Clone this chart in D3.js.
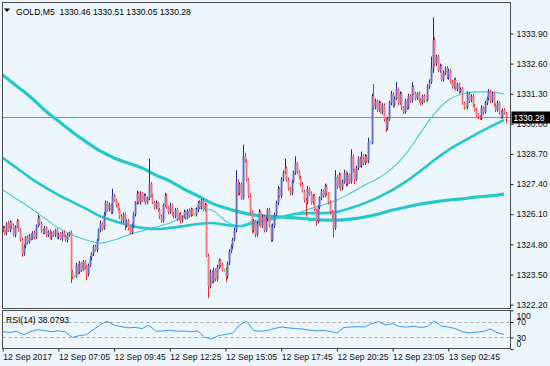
<!DOCTYPE html>
<html>
<head>
<meta charset="utf-8">
<script src="https://cdn.jsdelivr.net/npm/d3@7"></script>
<style>
  html, body { margin: 0; padding: 0; background: #eef6fd; }
  svg { display: block; font-family: "Liberation Sans", Arial, sans-serif; }
</style>
</head>
<body>
<div id="chart"></div>
<script>
// GOLD M5 chart with three moving averages and an RSI(14) sub-window

const symbolTitle = "GOLD,M5  1330.46 1330.51 1330.05 1330.28";
const rsiTitle = "RSI(14) 38.0793";
const lastPrice = 1330.28;

const priceTicks = [1333.90, 1332.60, 1331.30, 1330.00, 1328.70, 1327.40, 1326.10, 1324.80, 1323.50, 1322.20];
const timeTickBars = [0, 32, 64, 96, 128, 160, 192, 224, 256];
const timeTickLabels = ["12 Sep 2017", "12 Sep 07:05", "12 Sep 09:45", "12 Sep 12:25", "12 Sep 15:05",
  "12 Sep 17:45", "12 Sep 20:25", "12 Sep 23:05", "13 Sep 02:45"];
const rsiTicks = [100, 70, 30, 0];
const rsiLevels = [70, 30];

// candles: open of a bar = close of the bar before it
const firstOpen = 1325.40;
const closes = [
  1325.50, 1325.30, 1325.70, 1325.40, 1325.75, 1325.60, 1325.20, 1325.55, 1325.80, 1325.45,
  1325.00, 1324.40, 1324.70, 1325.10, 1324.90, 1325.20, 1325.05, 1325.30, 1325.10, 1325.60,
  1325.95, 1325.70, 1325.40, 1325.30, 1325.50, 1325.20, 1325.35, 1325.10, 1325.30, 1325.20,
  1325.40, 1325.10, 1325.25, 1325.05, 1325.30, 1325.15, 1325.00, 1325.20, 1325.30, 1323.60,
  1323.40, 1323.42, 1323.90, 1323.60, 1324.00, 1323.70, 1324.05, 1323.80, 1323.50, 1323.90,
  1324.20, 1324.40, 1324.70, 1324.55, 1325.00, 1325.40, 1325.70, 1325.50, 1326.10, 1326.60,
  1326.30, 1326.50, 1326.20, 1326.90, 1326.70, 1326.50, 1326.30, 1326.00, 1325.80, 1326.10,
  1325.60, 1325.80, 1325.50, 1325.30, 1325.60, 1326.10, 1326.60, 1327.00, 1326.60, 1327.00,
  1326.70, 1326.90, 1326.60, 1326.80, 1327.40, 1326.90, 1326.60, 1326.40, 1326.60, 1326.30,
  1326.00, 1325.80, 1326.50, 1326.90, 1326.40, 1326.20, 1326.50, 1326.10, 1326.00, 1326.30,
  1325.90, 1326.10, 1325.80, 1326.00, 1326.20, 1325.95, 1326.25, 1326.05, 1326.30, 1326.10,
  1326.08, 1326.30, 1326.60, 1326.40, 1326.70, 1326.30, 1326.50, 1324.30, 1323.00, 1323.60,
  1323.20, 1323.70, 1323.30, 1323.80, 1324.10, 1323.90, 1323.70, 1323.72, 1323.40, 1324.00,
  1324.50, 1324.70, 1325.00, 1325.40, 1327.50, 1327.00, 1327.40, 1326.80, 1328.60, 1328.40,
  1327.60, 1326.90, 1326.20, 1325.40, 1325.80, 1325.20, 1325.70, 1326.20, 1325.60, 1326.00,
  1325.40, 1325.90, 1326.30, 1325.60, 1325.00, 1325.60, 1326.10, 1326.60, 1327.20, 1326.90,
  1327.60, 1327.90, 1328.10, 1327.60, 1327.20, 1327.00, 1327.50, 1327.90, 1328.30, 1327.90,
  1327.70, 1327.40, 1327.10, 1326.70, 1326.60, 1327.20, 1327.00, 1326.60, 1326.90, 1326.30,
  1325.80, 1326.40, 1326.80, 1327.10, 1326.90, 1327.30, 1327.00, 1326.60, 1326.20, 1326.00,
  1325.50, 1327.70, 1327.30, 1327.80, 1327.20, 1327.50, 1327.90, 1327.40, 1327.80, 1327.50,
  1328.60, 1328.00, 1327.60, 1328.10, 1328.50, 1328.20, 1328.60, 1328.30, 1328.60, 1328.40,
  1329.20, 1329.18, 1331.20, 1330.70, 1331.00, 1330.60, 1330.90, 1330.50, 1330.80, 1330.20,
  1329.80, 1330.20, 1330.90, 1331.30, 1330.80, 1331.10, 1331.50, 1330.90, 1331.30, 1330.70,
  1330.50, 1331.00, 1330.70, 1331.20, 1331.00, 1331.60, 1331.30, 1331.10, 1331.30, 1331.00,
  1330.90, 1331.20, 1331.00, 1331.02, 1331.60, 1331.80, 1332.40, 1333.60, 1332.60, 1332.90,
  1332.30, 1332.50, 1331.90, 1332.20, 1332.40, 1332.00, 1332.30, 1331.80, 1331.60, 1331.90,
  1331.50, 1331.70, 1331.40, 1331.50, 1330.90, 1330.70, 1330.72, 1331.30, 1331.00, 1331.20,
  1330.80, 1330.60, 1330.40, 1330.30, 1330.25, 1330.70, 1330.50, 1330.90, 1331.10, 1331.40,
  1331.00, 1331.30, 1330.80, 1330.60, 1330.90, 1330.50, 1330.30, 1330.60, 1330.46, 1330.28
];
// wick lengths above / below the body, in cents
const upWick = [
  8, 10, 6, 12, 8, 5, 10, 7, 9, 6,   5, 8, 10, 6, 9, 5, 8, 7, 10, 6,
  12, 6, 8, 5, 9, 7, 6, 10, 5, 8,    6, 9, 5, 8, 7, 10, 6, 8, 5, 10,
  8, 6, 10, 7, 9, 5, 8, 6, 10, 7,    9, 6, 8, 10, 5, 8, 12, 6, 10, 9,
  7, 10, 6, 30, 8, 6, 9, 5, 10, 7,   8, 6, 9, 5, 10, 8, 6, 12, 7, 9,
  6, 10, 8, 5, 110, 9, 6, 8, 10, 5,  7, 9, 6, 12, 8, 5, 10, 6, 9, 7,
  8, 6, 10, 5, 9, 7, 6, 10, 8, 5,    6, 9, 7, 10, 5, 8, 9, 6, 10, 12,
  8, 10, 6, 12, 9, 7, 10, 5, 8, 6,   9, 10, 8, 12, 50, 10, 8, 9, 50, 15,
  8, 6, 10, 7, 9, 5, 8, 12, 6, 10,   7, 9, 6, 8, 5, 10, 7, 9, 12, 6,
  10, 8, 40, 6, 9, 7, 10, 8, 30, 6,  9, 5, 8, 6, 10, 12, 7, 9, 6, 8,
  5, 10, 7, 9, 6, 12, 8, 5, 10, 7,   9, 30, 8, 10, 6, 9, 12, 7, 10, 6,
  30, 8, 6, 9, 10, 7, 20, 8, 10, 6,  20, 8, 10, 52, 9, 6, 10, 7, 9, 8,
  6, 10, 9, 12, 7, 8, 30, 6, 10, 8,  6, 9, 7, 10, 8, 20, 6, 9, 7, 10,
  8, 6, 9, 5, 10, 12, 50, 100, 15, 9, 8, 10, 6, 9, 7, 10, 8, 6, 9, 7,
  10, 6, 8, 7, 9, 5, 6, 10, 8, 7,    9, 6, 8, 5, 7, 10, 6, 9, 8, 10,
  7, 9, 6, 8, 10, 7, 9, 6, 8, 5
];
const dnWick = [
  7, 9, 10, 6, 8, 12, 6, 9, 5, 10,   8, 13, 9, 7, 10, 6, 8, 5, 9, 7,
  6, 8, 10, 7, 5, 9, 8, 6, 10, 7,    8, 6, 9, 7, 10, 5, 8, 12, 6, 47,
  10, 8, 6, 9, 7, 10, 6, 8, 24, 9,   7, 8, 10, 6, 9, 5, 8, 10, 7, 6,
  9, 7, 10, 8, 6, 9, 7, 10, 8, 6,    18, 8, 10, 9, 6, 7, 10, 8, 6, 9,
  8, 6, 10, 7, 9, 8, 6, 10, 7, 9,    10, 8, 6, 9, 7, 10, 8, 6, 9, 7,
  9, 7, 10, 6, 8, 9, 7, 10, 6, 8,    7, 8, 10, 6, 9, 7, 8, 5, 52, 10,
  9, 7, 10, 8, 6, 9, 7, 10, 20, 8,   10, 7, 9, 6, 8, 10, 7, 9, 6, 8,
  9, 10, 7, 12, 8, 10, 6, 9, 7, 10,  8, 6, 10, 7, 10, 8, 9, 6, 10, 7,
  9, 8, 6, 10, 7, 9, 8, 6, 10, 7,    8, 10, 6, 9, 60, 7, 10, 8, 9, 6,
  20, 9, 7, 10, 8, 6, 9, 7, 10, 8,   40, 8, 10, 7, 9, 6, 8, 10, 7, 9,
  8, 10, 20, 7, 9, 6, 10, 8, 7, 9,   10, 8, 6, 9, 7, 10, 8, 6, 9, 10,
  15, 8, 7, 9, 10, 6, 8, 9, 7, 10,   8, 6, 9, 7, 10, 8, 6, 9, 7, 8,
  10, 7, 9, 8, 6, 9, 7, 20, 8, 10,   7, 9, 6, 8, 10, 7, 9, 6, 8, 10,
  7, 9, 10, 6, 8, 7, 6, 9, 10, 7,    8, 6, 9, 10, 7, 8, 10, 6, 9, 7,
  10, 8, 6, 9, 7, 10, 8, 7, 6, 23
];

// moving averages, read every maStep bars
const maStep = 8;
const maSlow = [
  1332.11, 1331.63, 1331.16, 1330.60, 1330.12, 1329.65, 1329.22, 1328.83, 1328.53, 1328.31,
  1328.10, 1327.79, 1327.53, 1327.19, 1326.89, 1326.58, 1326.37, 1326.20, 1326.07, 1326.02,
  1325.98, 1325.94, 1325.89, 1325.85, 1325.85, 1325.89, 1325.98, 1326.11, 1326.28, 1326.41,
  1326.54, 1326.63, 1326.71, 1326.76, 1326.84, 1326.89, 1326.97
];
const maMid = [
  1328.53, 1328.10, 1327.66, 1327.28, 1326.93, 1326.63, 1326.33, 1326.02, 1325.81, 1325.64,
  1325.51, 1325.46, 1325.51, 1325.59, 1325.68, 1325.72, 1325.64, 1325.59, 1325.72, 1325.85,
  1325.98, 1326.11, 1326.15, 1326.15, 1326.20, 1326.37, 1326.58, 1326.84, 1327.15, 1327.53,
  1327.97, 1328.44, 1328.87, 1329.22, 1329.56, 1329.87, 1330.17
];
const maFast = [
  1327.15, 1326.76, 1326.37, 1325.94, 1325.51, 1325.20, 1324.99, 1324.86, 1324.99, 1325.20,
  1325.38, 1325.55, 1325.72, 1326.02, 1326.37, 1326.28, 1325.81, 1325.59, 1325.81, 1325.85,
  1325.94, 1326.11, 1326.33, 1326.50, 1326.71, 1327.02, 1327.36, 1327.66, 1328.10, 1328.74,
  1329.61, 1330.43, 1331.03, 1331.29, 1331.38, 1331.38, 1331.29
];

// RSI(14), read every rsiStep bars
const rsiStep = 4;
const rsiValues = [
  45, 43, 46, 37, 45, 50, 48, 45, 47, 45, 30, 35, 37, 50, 63, 72, 62, 58, 55, 56,
  53, 62, 46, 47, 49, 46, 47, 45, 47, 31, 26, 35, 38, 41, 62, 72, 49, 46, 48, 53,
  57, 55, 53, 52, 49, 47, 48, 46, 41, 56, 57, 58, 57, 66, 71, 62, 66, 58, 57, 59,
  56, 58, 73, 59, 57, 53, 45, 42, 44, 45, 52, 43, 38.08
];

const W = 550, H = 366;
const main = { left: 2.5, right: 510.5, top: 2.5, bottom: 308.5 };
const sub = { left: 2.5, right: 510.5, top: 310.5, bottom: 348.5 };
const fontSize = "8.6px";

const svg = d3.select("#chart").append("svg").attr("width", W).attr("height", H);
svg.append("rect").attr("width", W).attr("height", H).attr("fill", "#eef6fd");

const bars = closes.map((c, i) => {
  const o = i === 0 ? firstOpen : closes[i - 1];
  return { i, o, c, h: Math.max(o, c) + upWick[i] / 100, l: Math.min(o, c) - dnWick[i] / 100 };
});

const x = d3.scaleLinear().domain([0, 256]).range([2.7, 448.3]);
const y = d3.scaleLinear().domain([1322.20, 1333.90]).range([304.6, 33.5]);
const ry = d3.scaleLinear().domain([0, 100]).range([349.1, 310.4]);

const defs = svg.append("defs");
defs.append("clipPath").attr("id", "clip-main").append("rect")
  .attr("x", main.left).attr("y", main.top)
  .attr("width", main.right - main.left).attr("height", main.bottom - main.top);
defs.append("clipPath").attr("id", "clip-sub").append("rect")
  .attr("x", sub.left).attr("y", sub.top)
  .attr("width", sub.right - sub.left).attr("height", sub.bottom - sub.top);

const plot = svg.append("g").attr("clip-path", "url(#clip-main)");

// current price line
plot.append("line")
  .attr("x1", main.left).attr("x2", main.right)
  .attr("y1", Math.round(y(lastPrice)) + 0.5).attr("y2", Math.round(y(lastPrice)) + 0.5)
  .attr("stroke", "#8a8f96").attr("stroke-width", 1);

// moving averages
const maLine = (step) => d3.line()
  .x((d, i) => x(i * step))
  .y((d) => y(d))
  .curve(d3.curveMonotoneX);

plot.append("path").datum(maSlow).attr("d", maLine(maStep))
  .attr("fill", "none").attr("stroke", "#22c8ca").attr("stroke-width", 3.2);
plot.append("path").datum(maMid).attr("d", maLine(maStep))
  .attr("fill", "none").attr("stroke", "#22c8ca").attr("stroke-width", 2.6);
plot.append("path").datum(maFast).attr("d", maLine(maStep))
  .attr("fill", "none").attr("stroke", "#3ccfd0").attr("stroke-width", 1.1);

// candles
const isDoji = (d) => Math.abs(d.c - d.o) < 0.03;
const wickColor = (d) => isDoji(d) ? "#5ee04a" : d.c > d.o ? "#23239a" : "#ff2020";
const bodyColor = (d) => isDoji(d) ? "#7ef06a" : d.c > d.o ? "#6a6ac4" : "#f27a7a";

const candle = plot.selectAll(".candle").data(bars).join("g").attr("class", "candle");
candle.append("line")
  .attr("x1", (d) => Math.round(x(d.i)) + 0.5).attr("x2", (d) => Math.round(x(d.i)) + 0.5)
  .attr("y1", (d) => y(d.h)).attr("y2", (d) => y(d.l))
  .attr("stroke", wickColor).attr("stroke-width", 1);
candle.append("rect")
  .attr("x", (d) => Math.round(x(d.i)) - 0.4)
  .attr("width", 1.9)
  .attr("y", (d) => y(Math.max(d.o, d.c)))
  .attr("height", (d) => Math.max(1, y(Math.min(d.o, d.c)) - y(Math.max(d.o, d.c))))
  .attr("fill", bodyColor);

// frames
svg.append("rect")
  .attr("x", main.left).attr("y", main.top)
  .attr("width", main.right - main.left).attr("height", main.bottom - main.top)
  .attr("fill", "none").attr("stroke", "#4d4d4d");
svg.append("rect")
  .attr("x", sub.left).attr("y", sub.top)
  .attr("width", sub.right - sub.left).attr("height", sub.bottom - sub.top)
  .attr("fill", "none").attr("stroke", "#4d4d4d");

// price axis
const yAxis = svg.append("g")
  .attr("transform", `translate(${main.right},0)`)
  .call(d3.axisRight(y).tickValues(priceTicks).tickFormat(d3.format(".2f")).tickSize(3).tickPadding(3));
yAxis.select(".domain").remove();
yAxis.selectAll("line").attr("stroke", "#222");
yAxis.selectAll("text").attr("font-size", fontSize).attr("fill", "#111")
  .attr("font-family", "Liberation Sans, Arial, sans-serif");

// last price tag
const tagY = Math.round(y(lastPrice)) + 0.5;
svg.append("rect").attr("x", main.right + 1).attr("y", tagY - 6)
  .attr("width", W - main.right - 1).attr("height", 12).attr("fill", "#000");
svg.append("text").attr("x", main.right + 3).attr("y", tagY + 3)
  .attr("font-size", fontSize).attr("fill", "#fff").text(lastPrice.toFixed(2));

// title
svg.append("path").attr("d", "M4,8.5 L10,8.5 L7,12 Z").attr("fill", "#000");
svg.append("text").attr("x", 16).attr("y", 14.5).attr("font-size", fontSize)
  .attr("fill", "#000").attr("xml:space", "preserve").style("white-space", "pre").text(symbolTitle);

// RSI sub-window
const subPlot = svg.append("g").attr("clip-path", "url(#clip-sub)");
subPlot.selectAll(".lvl").data(rsiLevels).join("line").attr("class", "lvl")
  .attr("x1", sub.left).attr("x2", sub.right)
  .attr("y1", (d) => Math.round(ry(d)) + 0.5).attr("y2", (d) => Math.round(ry(d)) + 0.5)
  .attr("stroke", "#a8adb3").attr("stroke-dasharray", "3,3");
subPlot.append("path").datum(rsiValues)
  .attr("d", d3.line().x((d, i) => x(i * rsiStep)).y((d) => ry(d)))
  .attr("fill", "none").attr("stroke", "#3f93f0").attr("stroke-width", 1);

svg.append("text").attr("x", 6).attr("y", 323).attr("font-size", fontSize)
  .attr("fill", "#000").text(rsiTitle);

const rAxis = svg.append("g")
  .attr("transform", `translate(${sub.right},0)`)
  .call(d3.axisRight(ry).tickValues(rsiTicks).tickSize(3).tickPadding(3));
rAxis.select(".domain").remove();
rAxis.selectAll("line").attr("stroke", "#222");
rAxis.selectAll("text").attr("font-size", fontSize).attr("fill", "#111")
  .attr("font-family", "Liberation Sans, Arial, sans-serif")
  .attr("y", (d) => d === 100 ? 5 : d === 0 ? -5 : 0);

// time axis
const xAxis = svg.append("g")
  .attr("transform", `translate(0,${sub.bottom})`)
  .call(d3.axisBottom(x).tickValues(timeTickBars)
    .tickFormat((d, i) => timeTickLabels[i]).tickSize(3).tickPadding(2));
xAxis.select(".domain").remove();
xAxis.selectAll("line").attr("stroke", "#222");
xAxis.selectAll("text").attr("font-size", fontSize).attr("fill", "#111")
  .attr("font-family", "Liberation Sans, Arial, sans-serif")
  .attr("text-anchor", "start").attr("x", 0);
</script>
</body>
</html>
